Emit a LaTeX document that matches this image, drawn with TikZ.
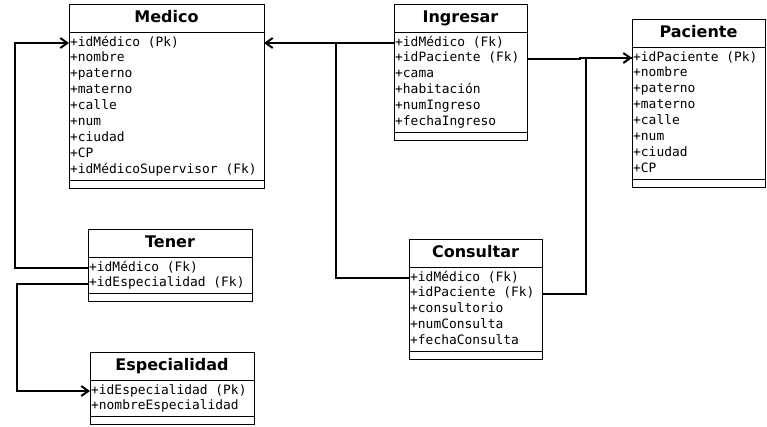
\documentclass[tikz,border=0pt]{standalone}
\usepackage{fontspec}
\setmainfont{DejaVu Sans}
\newfontfamily\attrfont{DejaVu Sans Mono}[Scale=1]
\usetikzlibrary{arrows.meta}
\tikzset{
  classbox/.style={draw, line width=1pt, inner sep=0pt, outer sep=0pt, anchor=north west},
  sepline/.style={line width=1pt},
  classtitle/.style={anchor=base, inner sep=0pt, font=\fontsize{16}{16}\selectfont\bfseries},
  attr/.style={anchor=west, inner xsep=1pt, inner ysep=0pt, text height=8.5pt, text depth=2.5pt,
               font=\attrfont\fontsize{12.9}{13}\selectfont},
  conn/.style={line width=2pt},
  arr/.style={-{Straight Barb[length=7pt,width=10pt,line width=2pt]}},
}
% #1 name, #2 x, #3 y, #4 width, #5 rows, #6 title, #7 attributes
\newcommand{\umlclass}[7]{%
  \node[classbox, minimum width=#4pt, minimum height={57pt+(#5-1)*15.9pt}] (#1) at (#2,#3) {};
  \draw[sepline] (#1.north west) ++(0,28) -- ++(#4,0);
  \draw[sepline] (#1.south west) ++(0,-8) -- ++(#4,0);
  \path (#1.north) ++(0,18.7) node[classtitle] (#1-t) {#6};
  \foreach \a [count=\i] in {#7} {
    \path (#1.north west) ++(0,{39+(\i-1)*15.9}) node[attr] (#1-\i) {\a};
  }
}
\begin{document}
\begin{tikzpicture}[x=1pt,y=-1pt]
\useasboundingbox[fill=white] (0,0) rectangle (767,426);

\umlclass{medico}{69}{4}{195}{9}{Medico}{+idMédico (Pk),+nombre,+paterno,+materno,+calle,+num,+ciudad,+CP,+idMédicoSupervisor (Fk)}
\umlclass{ingresar}{394}{4}{133}{6}{Ingresar}{+idMédico (Fk),+idPaciente (Fk),+cama,+habitación,+numIngreso,+fechaIngreso}
\umlclass{paciente}{632}{19}{133}{8}{Paciente}{+idPaciente (Pk),+nombre,+paterno,+materno,+calle,+num,+ciudad,+CP}
\umlclass{tener}{88}{229}{164}{2}{Tener}{+idMédico (Fk),+idEspecialidad (Fk)}
\umlclass{especialidad}{90}{352}{164}{2}{Especialidad}{+idEspecialidad (Pk),+nombreEspecialidad}
\umlclass{consultar}{409}{239}{133}{5}{Consultar}{+idMédico (Fk),+idPaciente (Fk),+consultorio,+numConsulta,+fechaConsulta}

% Tener -> Medico
\draw[conn,arr] (tener-1.west) -- ++(-73,0) |- (medico-1.west);
% Tener -> Especialidad
\draw[conn,arr] (tener-2.west) -- ++(-71,0) |- (especialidad-1.west);
% Ingresar -> Medico
\draw[conn,arr] (ingresar-1.west) -- (ingresar-1.west -| medico.east);
% Consultar -> Medico (joins)
\draw[conn] (consultar-1.west) -- ++(-73,0) |- (ingresar-1.west);
% Ingresar -> Paciente
\draw[conn,arr] (ingresar-2.west -| ingresar.east) -- ++(53,0) |- (paciente-1.west);
% Consultar -> Paciente (joins)
\draw[conn] (consultar-2.west -| consultar.east) -- ++(44,0) |- (paciente-1.west);
\end{tikzpicture}
\end{document}
